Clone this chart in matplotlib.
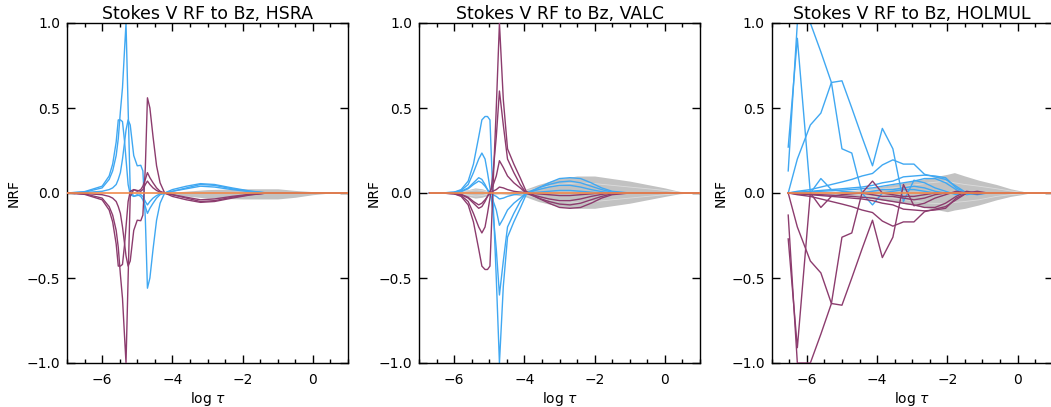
import numpy as np
import matplotlib
matplotlib.use("Agg")
import matplotlib.pyplot as plt
from matplotlib.ticker import MultipleLocator, FixedLocator

# ---------------- data ----------------
TITLES = ["Stokes V RF to Bz, HSRA", "Stokes V RF to Bz, VALC", "Stokes V RF to Bz, HOLMUL"]

HSRA_TAU = [-7.0, -6.5, -6.0, -5.8, -5.7, -5.6, -5.54, -5.48, -5.42, -5.36, -5.32, -5.26,
            -5.2, -5.1, -5.0, -4.9, -4.84, -4.77, -4.71, -4.64, -4.55, -4.45, -4.35, -4.22,
            -4.0, -3.6, -3.2, -2.8, -2.3, -1.8, -1.3, -0.5, 0.5, 1.0]
HSRA_BLUE_A = [0.0, 0.005, 0.03, 0.08, 0.13, 0.22, 0.32, 0.48, 0.62, 0.85, 1.0, 0.5,
               0.02, -0.02, -0.01, -0.02, -0.04, -0.08, -0.12, -0.09, -0.06, -0.03, -0.01, 0.0,
               0.01, 0.03, 0.05, 0.045, 0.025, 0.01, 0.0, 0.0, 0.0, 0.0]
HSRA_BLUE_B = [0.0, 0.008, 0.04, 0.1, 0.17, 0.3, 0.43, 0.43, 0.42, 0.3, 0.2, 0.05,
               -0.01, -0.02, -0.015, -0.01, -0.02, -0.05, -0.07, -0.05, -0.03, -0.015, -0.005, 0.0,
               0.01, 0.025, 0.04, 0.035, 0.02, 0.008, 0.0, 0.0, 0.0, 0.0]
HSRA_BLUE_C = [0.0, 0.003, 0.01, 0.02, 0.03, 0.05, 0.08, 0.12, 0.2, 0.3, 0.37, 0.43,
               0.4, 0.22, 0.16, 0.163, 0.13, -0.15, -0.56, -0.5, -0.33, -0.16, -0.06, 0.0,
               0.02, 0.04, 0.055, 0.05, 0.03, 0.012, 0.0, 0.0, 0.0, 0.0]
HSRA_PURPLE_A = [0.0, -0.005, -0.03, -0.08, -0.13, -0.22, -0.32, -0.48, -0.62, -0.85, -1.0, -0.5,
                 -0.02, 0.02, 0.01, 0.02, 0.04, 0.08, 0.12, 0.09, 0.06, 0.03, 0.01, 0.0,
                 -0.01, -0.03, -0.05, -0.045, -0.025, -0.01, 0.0, 0.0, 0.0, 0.0]
HSRA_PURPLE_B = [0.0, -0.008, -0.04, -0.1, -0.17, -0.3, -0.43, -0.43, -0.42, -0.3, -0.2, -0.05,
                 0.01, 0.02, 0.015, 0.01, 0.02, 0.05, 0.07, 0.05, 0.03, 0.015, 0.005, 0.0,
                 -0.01, -0.025, -0.04, -0.035, -0.02, -0.008, 0.0, 0.0, 0.0, 0.0]
HSRA_PURPLE_C = [0.0, -0.003, -0.01, -0.02, -0.03, -0.05, -0.08, -0.12, -0.2, -0.3, -0.37, -0.43,
                 -0.4, -0.22, -0.16, -0.163, -0.13, 0.15, 0.56, 0.5, 0.33, 0.16, 0.06, 0.0,
                 -0.02, -0.04, -0.055, -0.05, -0.03, -0.012, 0.0, 0.0, 0.0, 0.0]
HSRA_BAND_TAU = [-4.6, -4.0, -3.0, -2.0, -1.0, -0.5, 0.0, 0.5]
HSRA_BAND_UP = [0.0, 0.005, 0.02, 0.025, 0.025, 0.015, 0.008, 0.0]
HSRA_BAND_LO = [0.0, -0.01, -0.03, -0.035, -0.035, -0.025, -0.01, 0.0]
HSRA_GREY_LINES = []

VALC_TAU = [-6.7, -6.3, -6.0, -5.8, -5.6, -5.45, -5.3, -5.21, -5.12, -5.05, -4.98, -4.9,
            -4.8, -4.71, -4.6, -4.48, -4.3, -4.12, -3.95, -3.6, -3.3, -3.0, -2.7, -2.4,
            -2.1, -1.8, -1.5, -1.0, 0.0, 1.0]
VALC_BLUE_1 = [0.0, 0.001, 0.005, 0.02, 0.07, 0.17, 0.33, 0.43, 0.45, 0.45, 0.43, 0.0,
               -0.5, -1.0, -0.55, -0.26, -0.17, -0.09, -0.01, 0.03, 0.06, 0.085, 0.09, 0.085,
               0.06, 0.03, 0.01, 0.0, 0.0, 0.0]
VALC_BLUE_2 = [0.0, 0.001, 0.004, 0.015, 0.05, 0.12, 0.2, 0.235, 0.2, 0.12, 0.03, -0.1,
               -0.33, -0.6, -0.4, -0.2, -0.12, -0.05, 0.0, 0.03, 0.05, 0.065, 0.07, 0.06,
               0.04, 0.02, 0.005, 0.0, 0.0, 0.0]
VALC_BLUE_3 = [0.0, 0.001, 0.003, 0.01, 0.03, 0.06, 0.09, 0.08, 0.05, 0.02, -0.01, -0.04,
               -0.1, -0.19, -0.15, -0.1, -0.06, -0.03, 0.0, 0.02, 0.035, 0.045, 0.045, 0.035,
               0.02, 0.008, 0.0, 0.0, 0.0, 0.0]
VALC_BLUE_4 = [0.0, 0.0, 0.002, 0.008, 0.025, 0.05, 0.07, 0.06, 0.04, 0.02, 0.0, -0.01,
               -0.02, -0.035, -0.03, -0.02, -0.01, -0.005, 0.0, 0.005, 0.01, 0.015, 0.015, 0.01,
               0.005, 0.0, 0.0, 0.0, 0.0, 0.0]
VALC_PURPLE_1 = [0.0, -0.001, -0.005, -0.02, -0.07, -0.17, -0.33, -0.43, -0.45, -0.45, -0.43, 0.0,
                 0.5, 1.0, 0.55, 0.26, 0.17, 0.09, 0.01, -0.03, -0.06, -0.085, -0.09, -0.085,
                 -0.06, -0.03, -0.01, 0.0, 0.0, 0.0]
VALC_PURPLE_2 = [0.0, -0.001, -0.004, -0.015, -0.05, -0.12, -0.2, -0.235, -0.2, -0.12, -0.03, 0.1,
                 0.33, 0.6, 0.4, 0.2, 0.12, 0.05, 0.0, -0.03, -0.05, -0.065, -0.07, -0.06,
                 -0.04, -0.02, -0.005, 0.0, 0.0, 0.0]
VALC_PURPLE_3 = [0.0, -0.001, -0.003, -0.01, -0.03, -0.06, -0.09, -0.08, -0.05, -0.02, 0.01, 0.04,
                 0.1, 0.19, 0.15, 0.1, 0.06, 0.03, 0.0, -0.02, -0.035, -0.045, -0.045, -0.035,
                 -0.02, -0.008, 0.0, 0.0, 0.0, 0.0]
VALC_PURPLE_4 = [0.0, 0.0, -0.002, -0.008, -0.025, -0.05, -0.07, -0.06, -0.04, -0.02, 0.0, 0.01,
                 0.02, 0.035, 0.03, 0.02, 0.01, 0.005, 0.0, -0.005, -0.01, -0.015, -0.015, -0.01,
                 -0.005, 0.0, 0.0, 0.0, 0.0, 0.0]
VALC_BAND_TAU = [-6.7, -6.0, -5.6, -5.4, -5.2, -5.0, -4.7, -4.3, -4.0, -3.6, -3.0, -2.5,
                 -2.0, -1.5, -1.0, -0.5, 0.0, 0.4, 0.7, 1.0]
VALC_BAND_UP = [0.0, 0.005, 0.02, 0.03, 0.025, 0.01, 0.005, 0.01, 0.02, 0.05, 0.085, 0.1,
                0.1, 0.085, 0.07, 0.05, 0.03, 0.01, 0.0, 0.0]
VALC_BAND_LO = [0.0, -0.005, -0.02, -0.03, -0.025, -0.01, -0.005, -0.01, -0.02, -0.05, -0.08, -0.09,
                -0.09, -0.075, -0.06, -0.04, -0.02, -0.005, 0.0, 0.0]
VALC_GREY_1 = [0.0, 0.003, 0.012, 0.018, 0.015, 0.005, 0.0, 0.005, 0.012, 0.03, 0.05, 0.06,
               0.055, 0.045, 0.035, 0.025, 0.015, 0.005, 0.0, 0.0]
VALC_GREY_2 = [0.0, -0.003, -0.012, -0.018, -0.015, -0.005, 0.0, -0.005, -0.012, -0.03, -0.05, -0.055,
               -0.05, -0.04, -0.03, -0.02, -0.01, -0.003, 0.0, 0.0]
VALC_GREY_LINES = [VALC_GREY_1, VALC_GREY_2]

HOLMUL_TAU = [-6.53, -6.27, -5.9, -5.6, -5.3, -5.0, -4.72, -4.43, -4.13, -3.85, -3.55, -3.25,
              -2.95, -2.65, -2.35, -2.05, -1.75, -1.45, -1.15, -0.85, -0.55, -0.25, 0.05, 0.35,
              0.65, 0.95]
HOLMUL_BLUE_1 = [0.27, 0.91, 0.0, 0.085, 0.02, 0.01, 0.005, 0.0, 0.01, 0.02, 0.02, 0.03,
                 0.04, 0.03, 0.01, 0.0, 0.0, 0.0, 0.0, 0.0, 0.0, 0.0, 0.0, 0.0, 0.0, 0.0]
HOLMUL_BLUE_2 = [0.13, 1.0, 1.0, 0.83, 0.65, 0.26, 0.235, 0.0, -0.07, 0.0, 0.01, 0.02,
                 0.02, 0.01, 0.0, 0.0, 0.0, 0.0, 0.0, 0.0, 0.0, 0.0, 0.0, 0.0, 0.0, 0.0]
HOLMUL_BLUE_3 = [0.0, 0.2, 0.4, 0.47, 0.65, 0.66, 0.5, 0.33, 0.16, 0.38, 0.26, -0.05,
                 0.075, 0.06, 0.03, 0.01, -0.01, 0.0, 0.0, 0.0, 0.0, 0.0, 0.0, 0.0, 0.0, 0.0]
HOLMUL_BLUE_4 = [0.0, 0.01, 0.02, 0.035, 0.05, 0.065, 0.08, 0.1, 0.115, 0.165, 0.195, 0.17,
                 0.17, 0.11, 0.095, 0.08, 0.04, 0.0, -0.01, 0.0, 0.0, 0.0, 0.0, 0.0, 0.0, 0.0]
HOLMUL_BLUE_5 = [0.0, 0.005, 0.01, 0.015, 0.02, 0.025, 0.03, 0.035, 0.045, 0.06, 0.07, 0.095,
                 0.1, 0.105, 0.1, 0.09, 0.03, 0.0, 0.005, 0.0, 0.0, 0.0, 0.0, 0.0, 0.0, 0.0]
HOLMUL_BLUE_6 = [0.0, 0.003, 0.006, 0.01, 0.013, 0.017, 0.02, 0.025, 0.03, 0.04, 0.05, 0.06,
                 0.07, 0.085, 0.085, 0.06, 0.02, -0.01, 0.0, 0.0, 0.0, 0.0, 0.0, 0.0, 0.0, 0.0]
HOLMUL_PURPLE_1 = [-0.27, -0.91, 0.0, -0.085, -0.02, -0.01, -0.005, 0.0, -0.01, -0.02, -0.02, -0.03,
                   -0.04, -0.03, -0.01, 0.0, 0.0, 0.0, 0.0, 0.0, 0.0, 0.0, 0.0, 0.0, 0.0, 0.0]
HOLMUL_PURPLE_2 = [-0.13, -1.0, -1.0, -0.83, -0.65, -0.26, -0.235, 0.0, 0.07, 0.0, -0.01, -0.02,
                   -0.02, -0.01, 0.0, 0.0, 0.0, 0.0, 0.0, 0.0, 0.0, 0.0, 0.0, 0.0, 0.0, 0.0]
HOLMUL_PURPLE_3 = [0.0, -0.2, -0.4, -0.47, -0.65, -0.66, -0.5, -0.33, -0.16, -0.38, -0.26, 0.05,
                   -0.075, -0.06, -0.03, -0.01, 0.01, 0.0, 0.0, 0.0, 0.0, 0.0, 0.0, 0.0, 0.0, 0.0]
HOLMUL_PURPLE_4 = [0.0, -0.01, -0.02, -0.035, -0.05, -0.065, -0.08, -0.1, -0.115, -0.165, -0.195, -0.17,
                   -0.17, -0.11, -0.095, -0.08, -0.04, 0.0, 0.01, 0.0, 0.0, 0.0, 0.0, 0.0, 0.0, 0.0]
HOLMUL_PURPLE_5 = [0.0, -0.005, -0.01, -0.015, -0.02, -0.025, -0.03, -0.035, -0.045, -0.06, -0.07, -0.095,
                   -0.1, -0.105, -0.1, -0.09, -0.03, 0.0, -0.005, 0.0, 0.0, 0.0, 0.0, 0.0, 0.0, 0.0]
HOLMUL_PURPLE_6 = [0.0, -0.003, -0.006, -0.01, -0.013, -0.017, -0.02, -0.025, -0.03, -0.04, -0.05, -0.06,
                   -0.07, -0.085, -0.085, -0.06, -0.02, 0.01, 0.0, 0.0, 0.0, 0.0, 0.0, 0.0, 0.0, 0.0]
HOLMUL_BAND_TAU = [-6.53, -5.0, -4.43, -4.13, -3.55, -3.0, -2.5, -2.0, -1.8, -1.5, -1.1, -0.6,
                   -0.2, 0.1, 0.35]
HOLMUL_BAND_UP = [0.0, 0.01, 0.02, 0.03, 0.05, 0.07, 0.09, 0.11, 0.12, 0.1, 0.075, 0.05,
                  0.025, 0.012, 0.0]
HOLMUL_BAND_LO = [0.0, -0.01, -0.02, -0.035, -0.05, -0.07, -0.09, -0.11, -0.1, -0.09, -0.07, -0.04,
                  -0.02, -0.01, 0.0]
HOLMUL_GREY_1 = [0.0, 0.005, 0.012, 0.018, 0.03, 0.045, 0.06, 0.07, 0.06, 0.05, 0.04, 0.025,
                 0.012, 0.005, 0.0]
HOLMUL_GREY_2 = [0.0, -0.005, -0.012, -0.02, -0.03, -0.045, -0.06, -0.065, -0.055, -0.05, -0.04, -0.02,
                 -0.01, -0.005, 0.0]
HOLMUL_GREY_LINES = [HOLMUL_GREY_1, HOLMUL_GREY_2]

PANELS = [
    (HSRA_TAU, [HSRA_BLUE_A, HSRA_BLUE_B, HSRA_BLUE_C],
     [HSRA_PURPLE_A, HSRA_PURPLE_B, HSRA_PURPLE_C],
     HSRA_BAND_TAU, HSRA_BAND_UP, HSRA_BAND_LO, HSRA_GREY_LINES),
    (VALC_TAU, [VALC_BLUE_1, VALC_BLUE_2, VALC_BLUE_3, VALC_BLUE_4],
     [VALC_PURPLE_1, VALC_PURPLE_2, VALC_PURPLE_3, VALC_PURPLE_4],
     VALC_BAND_TAU, VALC_BAND_UP, VALC_BAND_LO, VALC_GREY_LINES),
    (HOLMUL_TAU, [HOLMUL_BLUE_1, HOLMUL_BLUE_2, HOLMUL_BLUE_3, HOLMUL_BLUE_4, HOLMUL_BLUE_5, HOLMUL_BLUE_6],
     [HOLMUL_PURPLE_1, HOLMUL_PURPLE_2, HOLMUL_PURPLE_3, HOLMUL_PURPLE_4, HOLMUL_PURPLE_5, HOLMUL_PURPLE_6],
     HOLMUL_BAND_TAU, HOLMUL_BAND_UP, HOLMUL_BAND_LO, HOLMUL_GREY_LINES),
]

# ---------------- style ----------------
BLUE = "#40a8f2"
PURPLE = "#8c3c6e"
GREY = "#c2c2c2"
GREY_LINE = "#dcdcdc"
ORANGE = "#f08a4b"

plt.rcParams["font.family"] = ["DejaVu Sans"]

W, H = 1051, 407
fig = plt.figure(figsize=(W / 100, H / 100), dpi=100)
lefts = [67, 419, 771.7]
ylabel_px = [21, 381, 728]

for i, (tau, blues, purples, btau, bup, blo, glines) in enumerate(PANELS):
    ax = fig.add_axes([lefts[i] / W, 44 / H, 281 / W, 340 / H])
    ax.fill_between(btau, blo, bup, color=GREY, lw=0, zorder=1)
    for g in glines:
        ax.plot(btau, g, color=GREY_LINE, lw=0.6, zorder=1.5)
    for c in blues:
        ax.plot(tau, c, color=BLUE, lw=1.0, zorder=2)
    for c in purples:
        ax.plot(tau, c, color=PURPLE, lw=1.0, zorder=3)
    ax.plot([tau[0], 1.0], [0, 0], color=ORANGE, lw=1.2, zorder=4)

    ax.set_xlim(-7, 1)
    ax.set_ylim(-1, 1)
    ax.xaxis.set_major_locator(FixedLocator([-6, -4, -2, 0]))
    ax.xaxis.set_minor_locator(MultipleLocator(0.5))
    ax.yaxis.set_major_locator(FixedLocator([-1.0, -0.5, 0.0, 0.5, 1.0]))
    ax.set_yticklabels(["\u22121.0", "\u22120.5", "0.0", "0.5", "1.0"])
    ax.set_xticklabels(["\u22126", "\u22124", "\u22122", "0"])
    ax.tick_params(which="both", direction="in", top=True, right=True, labelsize=10, width=1.0)
    ax.tick_params(which="major", length=6, pad=5)
    ax.tick_params(which="minor", length=3)
    ax.tick_params(axis="x", pad=7)
    for s in ax.spines.values():
        s.set_linewidth(1.0)
    ax.set_title(TITLES[i], fontsize=12.5, pad=3)
    ax.set_ylabel("NRF", fontsize=10)
    ax.yaxis.set_label_coords((ylabel_px[i] - lefts[i]) / 281, 0.5)
    ax.set_xlabel(r"log $\tau$", fontsize=10, labelpad=2)

fig.savefig("out.png", dpi=100)
